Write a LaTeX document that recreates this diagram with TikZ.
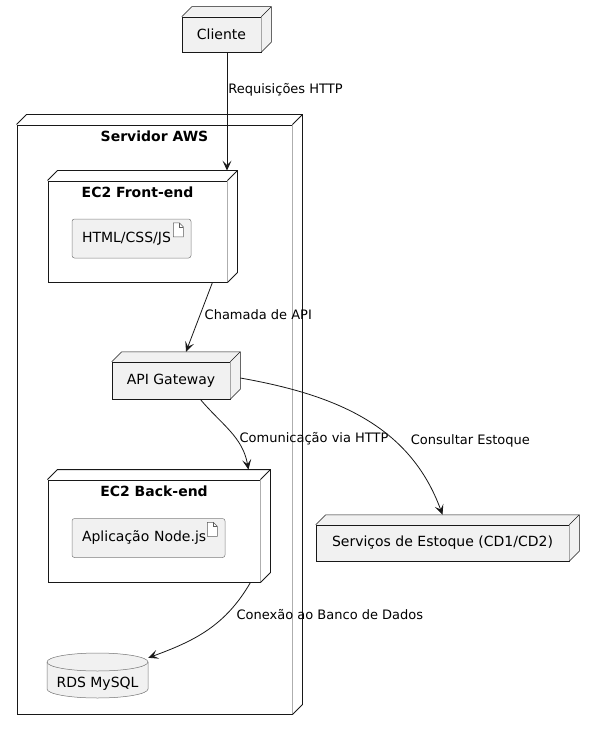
\documentclass[tikz,border=0pt]{standalone}
\usepackage{fontspec}
\setmainfont{DejaVu Sans}
\usepackage{tikz}
\usetikzlibrary{calc,arrows.meta}

\definecolor{nodefill}{HTML}{F1F1F1}
\definecolor{linec}{HTML}{181818}

\tikzset{
  leaf/.style={draw=linec, fill=nodefill, line width=0.5pt, inner sep=0pt, font=\fontsize{14}{16}\selectfont},
  frame/.style={draw=linec, fill=white, line width=0.9pt, inner sep=0pt},
  boxtitle/.style={font=\fontsize{14}{16}\selectfont\bfseries, inner sep=6pt},
  artifact/.style={draw=linec!55, fill=nodefill, line width=0.5pt, rounded corners=2.5pt, align=left, inner xsep=10pt, inner ysep=0pt, minimum height=39pt, font=\fontsize{14}{16}\selectfont},
  conn/.style={draw=linec, line width=0.8pt, -{Stealth[length=10pt,width=9pt,inset=4.5pt]}},
  lab/.style={font=\fontsize{13}{15}\selectfont, anchor=west, inner sep=1pt, text=black},
}

% top and right faces of a 3d node
\newcommand{\boxdepth}[2]{%
  \path[#1, draw=none] (#2.north west) -- ++(10,10) -- ($(#2.north east)+(10,10)$) -- ($(#2.south east)+(10,10)$) -- (#2.south east) -- (#2.north east) -- cycle;
  \draw[#1, fill=none] (#2.north west) -- ++(10,10) -- ($(#2.north east)+(10,10)$) -- ($(#2.south east)+(10,10)$) -- (#2.south east);
  \draw[#1, fill=none] (#2.north east) -- ++(10,10);}
% folded page icon of an artifact
\newcommand{\docicon}[1]{%
  \draw[linec!70, line width=0.5pt, fill=white] ($(#1.north east)+(-18,-4)$) -- ++(6,0) -- ++(4,-4) -- ++(0,-10) -- ++(-10,0) -- cycle;
  \draw[linec!70, line width=0.5pt] ($(#1.north east)+(-12,-4)$) -- ++(0,-4) -- ++(4,0);}

\begin{document}
\begin{tikzpicture}[x=1pt,y=1pt]
  \useasboundingbox (0,0) rectangle (593,-730);

  \node[leaf, minimum width=79pt, minimum height=35pt] (cliente) at (221.5,-34.5) {Cliente};
  \boxdepth{fill=nodefill, draw=linec, line width=0.5pt}{cliente}

  \node[frame, minimum width=275pt, minimum height=589pt, label={[boxtitle, anchor=north]north:Servidor AWS}] (aws) at (154.5,-419.5) {};
  \boxdepth{fill=white, draw=linec, line width=0.9pt}{aws}

  \node[frame, minimum width=179pt, minimum height=101pt, label={[boxtitle, anchor=north]north:EC2 Front-end}] (front) at (137.5,-231.5) {};
  \boxdepth{fill=white, draw=linec, line width=0.9pt}{front}
  \node[artifact, text width=99pt] (html) at (131.5,-238.5) {HTML/CSS/JS};
  \docicon{html}

  \node[leaf, minimum width=118pt, minimum height=37pt] (api) at (171,-380.5) {API Gateway};
  \boxdepth{fill=nodefill, draw=linec, line width=0.5pt}{api}

  \node[frame, minimum width=212pt, minimum height=102pt, label={[boxtitle, anchor=north]north:EC2 Back-end}] (back) at (154,-531) {};
  \boxdepth{fill=white, draw=linec, line width=0.9pt}{back}
  \node[artifact, text width=133pt] (nodeapp) at (148.5,-538) {Aplicação Node.js};
  \docicon{nodeapp}

  \draw[fill=nodefill, draw=linec!60, line width=0.5pt] (47,-662) -- (47,-689) arc[start angle=180, end angle=360, x radius=50.5, y radius=9] -- (148,-662) arc[start angle=0, end angle=180, x radius=50.5, y radius=9] -- cycle;
  \draw[draw=linec!60, line width=0.5pt] (47,-662) arc[start angle=180, end angle=360, x radius=50.5, y radius=9];
  \node[inner sep=0pt, minimum width=101pt, minimum height=45pt, text height=23pt, text depth=0pt, font=\fontsize{14}{16}\selectfont] (rds) at (97.5,-675.5) {RDS MySQL};

  \node[leaf, minimum width=253pt, minimum height=36pt] (estoque) at (442.5,-543) {Serviços de Estoque (CD1/CD2)};
  \boxdepth{fill=nodefill, draw=linec, line width=0.5pt}{estoque}

  \draw[conn] ([xshift=5.5pt]cliente.south) -- node[lab, pos=0.32] {Requisições HTTP} ([xshift=5.5pt,yshift=10pt]cliente.south |- front.north);
  \draw[conn] ([xshift=-15pt]front.south east) -- node[lab, pos=0.46, xshift=3pt] {Chamada de API} ([shift={(15pt,10pt)}]api.north);
  \draw[conn] ([xshift=-30pt]api.south east) to[out=-50, in=100] node[lab, pos=0.56, xshift=5pt, yshift=-3pt] {Comunicação via HTTP} ([shift={(-12pt,10pt)}]back.north east);
  \draw[conn] ([shift={(10pt,2.5pt)}]api.east) to[out=-10, in=110] node[lab, pos=0.69, xshift=9pt, yshift=6pt] {Consultar Estoque} ([yshift=10pt]estoque.north);
  \draw[conn] ([xshift=-10pt]back.south east) to[out=-120, in=20] node[lab, pos=0.3, xshift=9pt] {Conexão ao Banco de Dados} ([yshift=-5pt]rds.north east);
\end{tikzpicture}
\end{document}
